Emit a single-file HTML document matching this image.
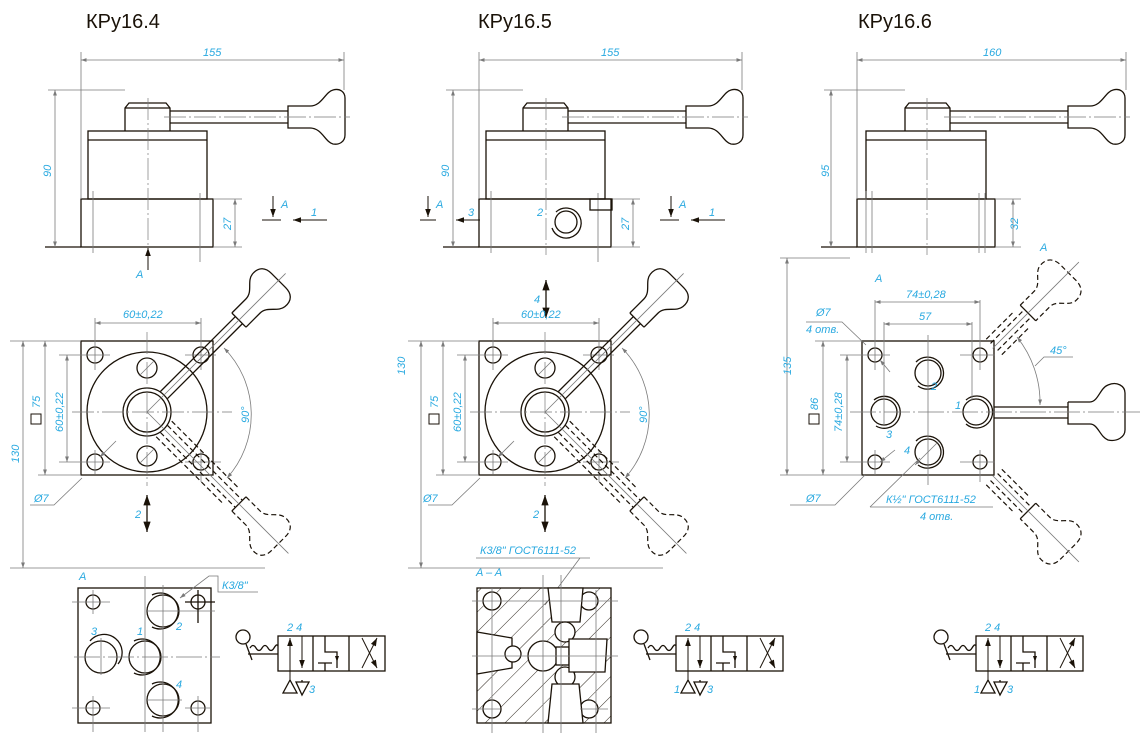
<!DOCTYPE html>
<html><head><meta charset="utf-8"><style>
html,body{margin:0;padding:0;background:#fff;}
svg{display:block;}
.k{fill:none;stroke:#1a1208;stroke-width:1.3;}
.kd{fill:none;stroke:#1a1208;stroke-width:1.2;stroke-dasharray:5 3;}
.g{fill:none;stroke:#7a7a7a;stroke-width:0.8;}
.c{fill:none;stroke:#7a7a7a;stroke-width:0.7;stroke-dasharray:22 3 2 3;}
.t{font-family:"Liberation Sans","DejaVu Sans",sans-serif;font-style:italic;font-size:11px;fill:#29a9e0;}
.h{font-family:"Liberation Sans","DejaVu Sans",sans-serif;font-size:20px;fill:#1a1208;}
</style></head><body>
<svg width="1145" height="743" viewBox="0 0 1145 743" xmlns="http://www.w3.org/2000/svg">
<defs>
<marker id="a" viewBox="0 0 10 10" refX="10" refY="5" markerWidth="7" markerHeight="7" orient="auto-start-reverse"><path d="M0,1.5 L10,5 L0,8.5z" fill="#7a7a7a"/></marker>
<marker id="b" viewBox="0 0 10 10" refX="10" refY="5" markerWidth="8" markerHeight="8" orient="auto-start-reverse"><path d="M0,1.5 L10,5 L0,8.5z" fill="#1a1208"/></marker>
<pattern id="hat" width="14" height="14" patternUnits="userSpaceOnUse" patternTransform="rotate(45)"><line x1="0" y1="0" x2="0" y2="14" stroke="#1a1208" stroke-width="0.9"/></pattern>
<g id="front">
<rect class="k" x="81" y="199" width="132" height="48"/>
<rect class="k" x="88" y="131" width="119" height="68"/>
<line class="k" x1="88" y1="140" x2="207" y2="140"/>
<path class="k" d="M125,131 V108 L129,103 H166 L170,108 V131"/>
<line class="k" x1="125" y1="108" x2="170" y2="108"/>
<line class="k" x1="170" y1="111" x2="288" y2="111"/>
<line class="k" x1="170" y1="123" x2="288" y2="123"/>
<path class="k" d="M288,106 H310 C322,106 325,92 333,90 C340,88 345,92 345,98 V135 C345,142 339,145 333,144 C325,142 322,128 310,128 H288 Z"/>
<line class="c" x1="164" y1="117" x2="350" y2="117"/>
<line class="c" x1="148" y1="98" x2="148" y2="255"/>
<line class="g" x1="93" y1="191" x2="93" y2="253"/>
<line class="g" x1="200" y1="193" x2="200" y2="262"/>
<line class="k" x1="45" y1="247" x2="81" y2="247"/>
<line class="g" x1="48" y1="90" x2="125" y2="90"/>
<line class="g" x1="81" y1="52" x2="81" y2="199"/>
<line class="g" x1="344" y1="52" x2="344" y2="90"/>
<line class="g" x1="81" y1="60" x2="344" y2="60" marker-start="url(#a)" marker-end="url(#a)"/>
<line class="g" x1="55" y1="90" x2="55" y2="247" marker-start="url(#a)" marker-end="url(#a)"/>
<line class="g" x1="213" y1="199" x2="242" y2="199"/>
<line class="g" x1="213" y1="247" x2="242" y2="247"/>
<line class="g" x1="235" y1="199" x2="235" y2="247" marker-start="url(#a)" marker-end="url(#a)"/>
</g>
<g id="plate">
<rect class="k" x="81" y="341" width="132" height="134"/>
<circle class="k" cx="95" cy="355" r="8"/><circle class="k" cx="201" cy="355" r="8"/>
<circle class="k" cx="95" cy="462" r="8"/><circle class="k" cx="201" cy="462" r="8"/>
<circle class="k" cx="147" cy="412" r="60"/>
<circle class="k" cx="147" cy="412" r="24"/><circle class="k" cx="147" cy="412" r="20"/>
<circle class="k" cx="147" cy="368" r="10"/><circle class="k" cx="147" cy="456" r="10"/>
<line class="g" x1="139" y1="376" x2="155" y2="360"/><line class="g" x1="139" y1="464" x2="155" y2="448"/>
<line class="c" x1="72" y1="412" x2="232" y2="412"/>
<line class="c" x1="147" y1="332" x2="147" y2="486"/>
<line class="g" x1="59" y1="355" x2="110" y2="355"/><line class="g" x1="185" y1="355" x2="216" y2="355"/>
<line class="g" x1="59" y1="462" x2="110" y2="462"/><line class="g" x1="185" y1="462" x2="221" y2="462"/>
<line class="g" x1="95" y1="318" x2="95" y2="370"/><line class="g" x1="201" y1="318" x2="201" y2="370"/>
<line class="g" x1="95" y1="450" x2="95" y2="474"/><line class="g" x1="201" y1="450" x2="201" y2="482"/>
<line class="g" x1="95" y1="323" x2="201" y2="323" marker-start="url(#a)" marker-end="url(#a)"/>
<line class="g" x1="67" y1="355" x2="67" y2="462" marker-start="url(#a)" marker-end="url(#a)"/>
<line class="g" x1="38" y1="475" x2="81" y2="475"/>
<line class="g" x1="45" y1="341" x2="45" y2="475" marker-start="url(#a)" marker-end="url(#a)"/>
<line class="g" x1="10" y1="341" x2="81" y2="341"/>
<line class="g" x1="23" y1="341" x2="23" y2="568" marker-start="url(#a)" marker-end="url(#a)"/>
<line class="g" x1="10" y1="568" x2="265" y2="568"/>
<rect x="31" y="414" width="10" height="10" fill="none" stroke="#1a1208" stroke-width="1"/>
<path class="g" d="M30,505 H54 L82,478"/>
<line class="g" x1="116" y1="441" x2="100" y2="457" marker-end="url(#a)"/>
<path class="g" d="M224,348 A95,95 0 0 1 227,478" marker-start="url(#a)" marker-end="url(#a)"/>
<g transform="translate(147,412) rotate(-45)">
<path class="k" d="M24,-5 H130 M24,5 H130 M130,-10 V10 M130,-10 H150 C160,-10 163,-22 172,-23 C182,-24 186,-18 186,-10 V10 C186,18 182,24 172,23 C163,22 160,10 150,10 H130"/>
<line class="g" x1="0" y1="0" x2="196" y2="0"/>
</g>
<g transform="translate(147,412) rotate(45)">
<path class="kd" d="M24,-5 H130 M24,5 H130 M24,-11 H120 M24,11 H120 M130,-10 H150 C160,-10 163,-22 172,-23 C182,-24 186,-18 186,-10 V10 C186,18 182,24 172,23 C163,22 160,10 150,10 H130"/>
<line class="k" x1="130" y1="-10" x2="130" y2="10"/>
<line class="g" x1="0" y1="0" x2="200" y2="0"/>
</g>
<line x1="147" y1="495" x2="147" y2="532" stroke="#1a1208" stroke-width="1.3" marker-start="url(#b)" marker-end="url(#b)"/>
</g>
<g id="sch">
<circle class="k" cx="243" cy="637" r="7"/>
<path class="k" d="M246,644 L252,660 M248,654 H278 M250,648 q3,-5 6,0 t6,0 t6,0 t6,0 t4,-2"/>
<rect class="k" x="278" y="636" width="107" height="35"/>
<line class="k" x1="313" y1="636" x2="313" y2="671"/><line class="k" x1="349" y1="636" x2="349" y2="671"/>
<line x1="290" y1="680" x2="290" y2="638" stroke="#1a1208" stroke-width="1" marker-end="url(#b)"/>
<line x1="302" y1="636" x2="302" y2="668" stroke="#1a1208" stroke-width="1" marker-end="url(#b)"/>
<path class="k" d="M325,636 V652 H337 V668 M318,663 H332 M325,663 V671"/>
<path d="M337,662 l-2,-6 h4z" fill="#1a1208"/>
<line x1="362" y1="668" x2="377" y2="638" stroke="#1a1208" stroke-width="1" marker-end="url(#b)"/>
<line x1="362" y1="638" x2="377" y2="668" stroke="#1a1208" stroke-width="1" marker-end="url(#b)"/>
<path class="k" d="M290,680 L283,693 H297 Z M302,680 V682 M296,682 H309 L302,695 Z"/>
</g>
<g id="dh">
<path class="kd" d="M92,-5 H140 M92,5 H140 M92,-11 H132 M92,11 H132 M140,-11 H160 C170,-11 173,-24 182,-25 C193,-26 197,-19 197,-11 V11 C197,19 193,26 182,25 C173,24 170,11 160,11 H140"/>
<line class="k" x1="140" y1="-11" x2="140" y2="11"/>
<line class="g" x1="90" y1="0" x2="212" y2="0"/>
</g>
</defs>

<text class="h" x="86" y="28">КРу16.4</text>
<text class="h" x="478" y="28">КРу16.5</text>
<text class="h" x="858" y="28">КРу16.6</text>

<use href="#front"/>
<use href="#plate"/>
<text class="t" x="203" y="56">155</text>
<text class="t" transform="translate(51,177) rotate(-90)">90</text>
<text class="t" transform="translate(231,230) rotate(-90)">27</text>
<line x1="273" y1="196" x2="273" y2="217" stroke="#1a1208" stroke-width="1" marker-end="url(#b)"/>
<line class="k" x1="262" y1="220" x2="281" y2="220" style="stroke-width:1"/>
<text class="t" x="281" y="208">A</text>
<line x1="327" y1="220" x2="293" y2="220" stroke="#1a1208" stroke-width="1" marker-end="url(#b)"/>
<text class="t" x="311" y="216">1</text>
<line x1="148" y1="270" x2="148" y2="248" stroke="#1a1208" stroke-width="1" marker-end="url(#b)"/>
<text class="t" x="136" y="278">A</text>
<text class="t" x="123" y="318">60±0,22</text>
<text class="t" transform="translate(40,408) rotate(-90)">75</text>
<text class="t" transform="translate(63,432) rotate(-90)">60±0,22</text>
<text class="t" transform="translate(19,463) rotate(-90)">130</text>
<text class="t" transform="translate(249,423) rotate(-90)">90°</text>
<text class="t" x="34" y="502">Ø7</text>
<text class="t" x="135" y="518">2</text>
<rect class="k" x="78" y="588" width="133" height="135"/>
<g class="k">
<circle cx="93" cy="602" r="7"/><circle cx="198" cy="602" r="7"/><circle cx="93" cy="708" r="7"/><circle cx="198" cy="708" r="7"/>
<circle cx="163" cy="611" r="16"/><circle cx="101" cy="657" r="16"/><circle cx="145" cy="657" r="16"/><circle cx="163" cy="700" r="16"/>
<path d="M152,595 A18,18 0 1 1 152,627"/><path d="M90,641 A18,18 0 0 1 118,664"/><path d="M134,641 A18,18 0 1 1 134,673"/><path d="M152,684 A18,18 0 1 1 152,716"/>
</g>
<g class="g">
<line x1="72" y1="602" x2="110" y2="602"/><line x1="93" y1="590" x2="93" y2="614"/>
<line x1="72" y1="708" x2="110" y2="708"/><line x1="93" y1="696" x2="93" y2="732"/>
<line x1="185" y1="708" x2="210" y2="708"/><line x1="198" y1="696" x2="198" y2="732"/>
<line x1="146" y1="611" x2="215" y2="611"/><line x1="163" y1="585" x2="163" y2="732"/>
<line x1="74" y1="657" x2="220" y2="657" stroke-dasharray="26 3 2 3"/><line x1="101" y1="638" x2="101" y2="675"/>
<line x1="145" y1="576" x2="145" y2="732"/><line x1="146" y1="700" x2="182" y2="700"/>
<path d="M258,592 H218 V576 H209 L180,598" marker-end="url(#a)"/>
</g>
<line class="k" x1="198" y1="590" x2="198" y2="623"/><line class="k" x1="185" y1="602" x2="215" y2="602"/>
<text class="t" x="79" y="580">A</text>
<text class="t" x="222" y="589">К3/8"</text>
<text class="t" x="176" y="630">2</text>
<text class="t" x="91" y="635">3</text>
<text class="t" x="137" y="635">1</text>
<text class="t" x="176" y="688">4</text>
<use href="#sch"/>
<text class="t" x="287" y="631">2 4</text>
<text class="t" x="309" y="693">3</text>

<use href="#front" transform="translate(398,0)"/>
<use href="#plate" transform="translate(398,0)"/>
<circle class="k" cx="566" cy="222" r="11"/><path class="k" d="M556,212 A15,15 0 1 1 552,228"/>
<rect class="k" x="590" y="199" width="22" height="11"/>
<text class="t" x="601" y="56">155</text>
<text class="t" transform="translate(449,177) rotate(-90)">90</text>
<text class="t" transform="translate(629,230) rotate(-90)">27</text>
<text class="t" x="537" y="216">2</text>
<line x1="428" y1="196" x2="428" y2="217" stroke="#1a1208" stroke-width="1" marker-end="url(#b)"/>
<line class="k" x1="420" y1="220" x2="436" y2="220" style="stroke-width:1"/>
<text class="t" x="436" y="208">A</text>
<line x1="480" y1="220" x2="456" y2="220" stroke="#1a1208" stroke-width="1" marker-end="url(#b)"/>
<text class="t" x="468" y="216">3</text>
<line x1="671" y1="196" x2="671" y2="217" stroke="#1a1208" stroke-width="1" marker-end="url(#b)"/>
<line class="k" x1="660" y1="220" x2="679" y2="220" style="stroke-width:1"/>
<text class="t" x="679" y="208">A</text>
<line x1="725" y1="220" x2="691" y2="220" stroke="#1a1208" stroke-width="1" marker-end="url(#b)"/>
<text class="t" x="709" y="216">1</text>
<line x1="546" y1="280" x2="546" y2="318" stroke="#1a1208" stroke-width="1.3" marker-start="url(#b)" marker-end="url(#b)"/>
<text class="t" x="534" y="303">4</text>
<text class="t" x="521" y="318">60±0,22</text>
<text class="t" transform="translate(438,408) rotate(-90)">75</text>
<text class="t" transform="translate(461,432) rotate(-90)">60±0,22</text>
<text class="t" transform="translate(405,375) rotate(-90)">130</text>
<text class="t" transform="translate(647,423) rotate(-90)">90°</text>
<text class="t" x="423" y="502">Ø7</text>
<text class="t" x="533" y="518">2</text>
<text class="t" x="480" y="554">К3/8" ГОСТ6111-52</text>
<path class="g" d="M476,558 H590 M580,558 L545,605"/>
<text class="t" x="476" y="576">A – A</text>
<g>
<rect x="477" y="588" width="134" height="135" fill="url(#hat)" stroke="#1a1208" stroke-width="1.3"/>
<g fill="#fff" stroke="#1a1208" stroke-width="1.3">
<circle cx="492" cy="601" r="9"/><circle cx="589" cy="601" r="9"/><circle cx="492" cy="709" r="9"/><circle cx="589" cy="709" r="9"/>
<path d="M548,588 H583 L580,622 H552 Z"/>
<circle cx="565" cy="632" r="10"/><circle cx="565" cy="677" r="10"/>
<circle cx="543" cy="656" r="15"/>
<rect x="556" y="647" width="13" height="18"/>
<path d="M569,639 H607 L605,672 H569 Z"/>
<path d="M477,632 L512,638 V668 L477,674 Z"/>
<circle cx="513" cy="654" r="8"/>
<path d="M552,684 H579 L583,723 H548 Z"/>
</g>
<g class="g"><line x1="561" y1="575" x2="561" y2="733"/><line x1="543" y1="575" x2="543" y2="733"/><line x1="472" y1="656" x2="618" y2="656"/><line x1="472" y1="601" x2="618" y2="601"/><line x1="472" y1="709" x2="500" y2="709"/><line x1="580" y1="709" x2="608" y2="709"/><line x1="492" y1="588" x2="492" y2="733"/><line x1="596" y1="590" x2="596" y2="733"/></g>
</g>
<use href="#sch" transform="translate(398,0)"/>
<text class="t" x="685" y="631">2 4</text>
<text class="t" x="674" y="693">1</text>
<text class="t" x="707" y="693">3</text>

<g transform="translate(776,0)">
<rect class="k" x="81" y="199" width="138" height="48"/>
<rect class="k" x="90" y="131" width="120" height="68"/>
<line class="k" x1="90" y1="140" x2="210" y2="140"/>
<path class="k" d="M129,131 V108 L133,103 H170 L174,108 V131"/>
<line class="k" x1="129" y1="108" x2="174" y2="108"/>
<line class="k" x1="174" y1="111" x2="292" y2="111"/>
<line class="k" x1="174" y1="123" x2="292" y2="123"/>
<path class="k" d="M292,106 H314 C326,106 329,92 337,90 C344,88 349,92 349,98 V135 C349,142 343,145 337,144 C329,142 326,128 314,128 H292 Z"/>
<line class="c" x1="168" y1="117" x2="354" y2="117"/>
<line class="c" x1="151" y1="98" x2="151" y2="255"/>
<line class="g" x1="90" y1="191" x2="90" y2="253"/><line class="g" x1="96" y1="191" x2="96" y2="253"/>
<line class="g" x1="203" y1="193" x2="203" y2="253"/><line class="g" x1="209" y1="193" x2="209" y2="253"/>
<line class="k" x1="45" y1="247" x2="81" y2="247"/>
<line class="g" x1="48" y1="90" x2="129" y2="90"/>
<line class="g" x1="81" y1="52" x2="81" y2="199"/>
<line class="g" x1="350" y1="52" x2="350" y2="90"/>
<line class="g" x1="81" y1="60" x2="350" y2="60" marker-start="url(#a)" marker-end="url(#a)"/>
<line class="g" x1="55" y1="90" x2="55" y2="247" marker-start="url(#a)" marker-end="url(#a)"/>
<line class="g" x1="219" y1="199" x2="245" y2="199"/>
<line class="g" x1="219" y1="247" x2="245" y2="247"/>
<line class="g" x1="237" y1="199" x2="237" y2="247" marker-start="url(#a)" marker-end="url(#a)"/>
</g>
<text class="t" x="983" y="56">160</text>
<text class="t" transform="translate(829,177) rotate(-90)">95</text>
<text class="t" transform="translate(1018,230) rotate(-90)">32</text>
<rect class="k" x="862" y="341" width="132" height="134"/>
<g class="k">
<circle cx="875" cy="355" r="7"/><circle cx="980" cy="355" r="7"/><circle cx="875" cy="462" r="7"/><circle cx="980" cy="462" r="7"/>
<circle cx="928" cy="373" r="13"/><circle cx="884" cy="412" r="13"/><circle cx="976" cy="412" r="13"/><circle cx="928" cy="452" r="13"/>
<path d="M916,362 A16,16 0 1 1 918,386"/><path d="M874,400 A16,16 0 1 1 876,426"/><path d="M966,400 A16,16 0 1 1 966,424"/><path d="M916,441 A16,16 0 1 1 918,465"/>
<path d="M994,407 H1068 M994,418 H1068 M1068,402 V424 H1090 C1098,424 1100,437 1108,440 C1117,442 1125,437 1125,430 V393 C1125,386 1117,381 1108,385 C1100,388 1098,402 1090,402 H1068"/>
</g>
<g class="g">
<line x1="850" y1="412" x2="1140" y2="412" stroke-dasharray="26 3 2 3"/><line x1="928" y1="335" x2="928" y2="485"/>
<line x1="840" y1="355" x2="890" y2="355"/><line x1="960" y1="355" x2="995" y2="355"/>
<line x1="840" y1="462" x2="890" y2="462"/><line x1="960" y1="462" x2="995" y2="462"/>
<line x1="875" y1="300" x2="875" y2="370"/><line x1="980" y1="300" x2="980" y2="370"/>
<line x1="875" y1="450" x2="875" y2="475"/><line x1="980" y1="450" x2="980" y2="482"/>
<line x1="884" y1="322" x2="884" y2="425"/><line x1="972" y1="322" x2="972" y2="400"/>
<line x1="875" y1="302" x2="980" y2="302" marker-start="url(#a)" marker-end="url(#a)"/>
<line x1="884" y1="324" x2="972" y2="324" marker-start="url(#a)" marker-end="url(#a)"/>
<line x1="847" y1="462" x2="847" y2="355" marker-start="url(#a)" marker-end="url(#a)"/>
<line x1="823" y1="341" x2="823" y2="475" marker-start="url(#a)" marker-end="url(#a)"/>
<line x1="815" y1="341" x2="862" y2="341"/>
<line x1="787" y1="258" x2="787" y2="475" marker-start="url(#a)" marker-end="url(#a)"/>
<line x1="780" y1="258" x2="850" y2="258"/><line x1="780" y1="475" x2="862" y2="475"/>
<path d="M806,322 H842 L866,345"/>
<line x1="890" y1="372" x2="880" y2="360" marker-end="url(#a)"/>
<path d="M790,505 H835 L865,475"/>
<line x1="895" y1="450" x2="880" y2="462" marker-end="url(#a)"/>
<path d="M870,507 H993 M870,507 L920,458" />
<line x1="915" y1="465" x2="940" y2="440" marker-start="url(#a)"/>
<path d="M1017,337 A105,105 0 0 1 1040,405" marker-start="url(#a)" marker-end="url(#a)"/>
<path d="M1035,366 L1044,357 H1073"/>
</g>
<use href="#dh" transform="translate(929,412) rotate(-45)"/>
<use href="#dh" transform="translate(929,412) rotate(45)"/>
<rect x="809" y="414" width="10" height="10" fill="none" stroke="#1a1208" stroke-width="1"/>
<text class="t" x="1040" y="251">A</text>
<text class="t" x="875" y="282">A</text>
<text class="t" x="906" y="298">74±0,28</text>
<text class="t" x="919" y="320">57</text>
<text class="t" x="816" y="316">Ø7</text>
<text class="t" x="806" y="333">4 отв.</text>
<text class="t" x="1050" y="354">45°</text>
<text class="t" transform="translate(818,410) rotate(-90)">86</text>
<text class="t" transform="translate(842,432) rotate(-90)">74±0,28</text>
<text class="t" transform="translate(791,375) rotate(-90)">135</text>
<text class="t" x="931" y="390">2</text>
<text class="t" x="955" y="409">1</text>
<text class="t" x="886" y="438">3</text>
<text class="t" x="904" y="454">4</text>
<text class="t" x="806" y="502">Ø7</text>
<text class="t" x="886" y="503">К½" ГОСТ6111-52</text>
<text class="t" x="920" y="520">4 отв.</text>
<use href="#sch" transform="translate(698,0)"/>
<text class="t" x="985" y="631">2 4</text>
<text class="t" x="974" y="693">1</text>
<text class="t" x="1007" y="693">3</text>
</svg>
</body></html>
